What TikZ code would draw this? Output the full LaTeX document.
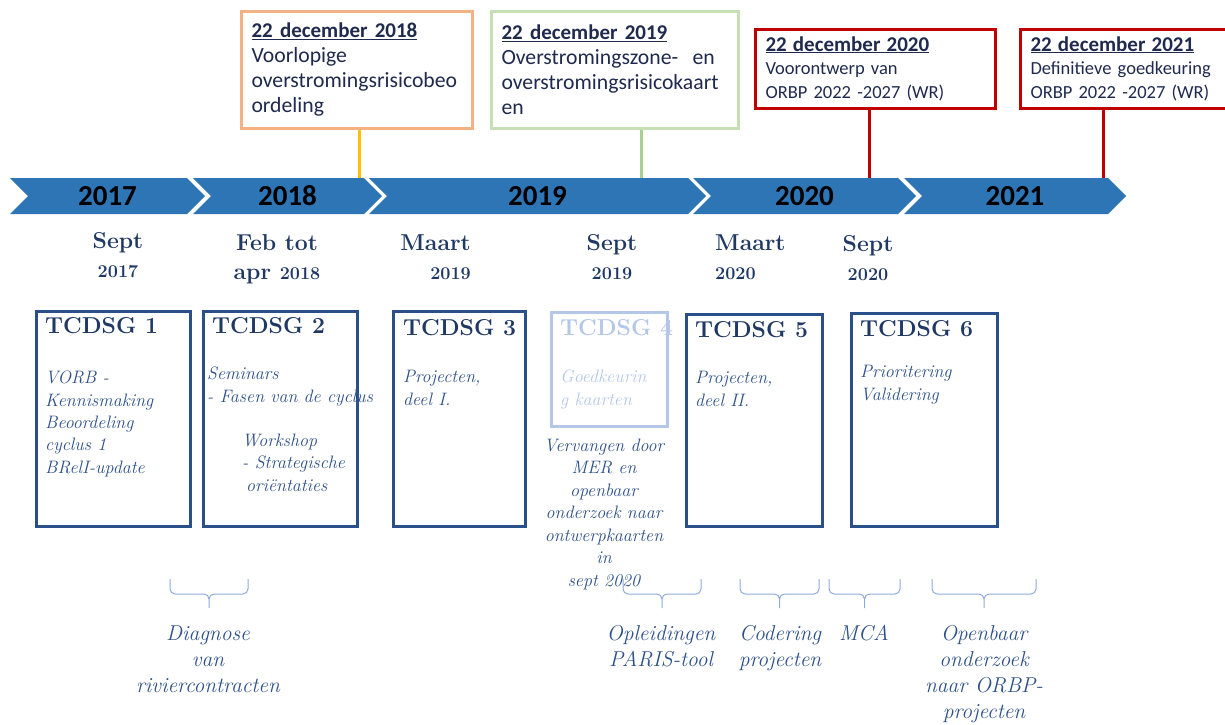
\documentclass[tikz,border=0pt]{standalone}
\usepackage{fontspec}
\newfontfamily\calib{Carlito}
\usetikzlibrary{shapes.symbols,positioning}
\definecolor{chevblue}{HTML}{2E75B6}
\definecolor{navy}{HTML}{1F3864}
\definecolor{itblue}{HTML}{2C5088}
\definecolor{boxblue}{HTML}{2B5089}
\definecolor{paleblue}{HTML}{B4C7E7}
\definecolor{bracecol}{HTML}{8FAADC}
\definecolor{orangebox}{HTML}{F4B183}
\definecolor{goldline}{HTML}{FFC000}
\definecolor{greenbox}{HTML}{C5E0B4}
\definecolor{greenline}{HTML}{A9D18E}
\definecolor{redbox}{HTML}{C00000}
\definecolor{datetext}{HTML}{1F2A4E}
\hyphenpenalty=10000 \exhyphenpenalty=10000

\begin{document}
\begin{tikzpicture}[x=1pt, y=-1pt,
    year/.style={signal, signal to=east, signal from=west, fill=chevblue,
                 minimum height=36pt, inner sep=0pt,
                 font=\calib\fontsize{29}{34}\selectfont\bfseries},
    deadline/.style={rectangle, line width=3pt, fill=white, anchor=north west,
                     align=left, inner xsep=10.5pt, inner ysep=0pt, text=datetext,
                     font=\calib\fontsize{21.7}{25}\selectfont},
    tick/.style={line width=3pt},
    when/.style={inner sep=0pt, text=navy, align=center,
                 font=\fontsize{23}{29}\selectfont\bfseries},
    group/.style={rectangle, draw=boxblue, line width=3pt, anchor=north west, inner sep=0pt},
    grouptitle/.style={anchor=base west, inner sep=0pt, text=navy,
                       font=\fontsize{23}{28}\selectfont\bfseries},
    groupbody/.style={anchor=base west, inner sep=0pt, align=left, text=itblue,
                      font=\fontsize{18}{22.3}\selectfont\itshape},
    outcome/.style={anchor=base, inner sep=0pt, align=center, text=itblue,
                    font=\fontsize{21.5}{26}\selectfont\itshape},
    grp/.style={draw=bracecol, line width=1pt, rounded corners=5pt}]

\useasboundingbox (0,0) rectangle (1225,724);

% Year chevrons
\node[year, minimum width=195pt] (y17) at (107.5,196) {2017};
\node[year, minimum width=189pt] (y18) at (287.5,196) {2018};
\node[year, minimum width=337pt] (y19) at (537.5,196) {2019};
\node[year, minimum width=223pt] (y20) at (804.5,196) {2020};
\node[year, minimum width=222pt] (y21) at (1015,196) {2021};

% Deadlines (top row)
\node[deadline, draw=orangebox, minimum width=231pt, minimum height=117pt, text width=210pt]
  (d18) at (239.5,9.5)
  {{\fontsize{21}{25}\selectfont\underline{\textbf{22 december 2018}}}\\Voorlopige\\overstromingsrisicobeo\\ordeling};
\node[deadline, draw=greenbox, minimum width=247pt, minimum height=117pt, text width=226pt]
  (d19) at (489.5,9.5)
  {{\fontsize{21}{25}\selectfont\underline{\textbf{22 december 2019}}}\\Overstromingszone-\ \ en\\overstromingsrisicokaart\\en};
\node[deadline, draw=redbox, minimum width=240pt, minimum height=79pt, text width=219pt,
      font=\calib\fontsize{18.5}{23.5}\selectfont]
  (d20) at (753.5,27.5)
  {{\fontsize{21}{25}\selectfont\underline{\textbf{22 december 2020}}}\\Voorontwerp van\\ORBP 2022 -2027 (WR)};
\node[deadline, draw=redbox, minimum width=220pt, minimum height=79pt, text width=199pt,
      font=\calib\fontsize{18.5}{23.5}\selectfont]
  (d21) at (1018.5,27.5)
  {{\fontsize{21}{25}\selectfont\underline{\textbf{22 december 2021}}}\\Definitieve goedkeuring\\ORBP 2022 -2027 (WR)};

% Deadline ticks down to the timeline
\draw[tick, goldline] ([xshift=3]d18.south) -- ([xshift=3]d18.south |- y18.north);
\draw[tick, greenline] ([xshift=27]d19.south) -- ([xshift=27]d19.south |- y19.north);
\draw[tick, redbox] ([xshift=-5.5]d20.south) -- ([xshift=-5.5]d20.south |- y20.north);
\draw[tick, redbox] ([xshift=-26.5]d21.south) -- ([xshift=-26.5]d21.south |- y21.north);

% Meeting dates (base = last line)
\node[when, anchor=base] (m1) at (118,277) {Sept\\{\fontsize{18}{29}\selectfont 2017}};
\node[when, anchor=base] (m2) at (277,279) {Feb tot\\apr {\fontsize{18}{29}\selectfont 2018}};
\node[when, anchor=base east, align=right] (m3) at (471,279) {Maart\\{\fontsize{18}{29}\selectfont 2019}};
\node[when, anchor=base] (m4) at (612,279) {Sept\\{\fontsize{18}{29}\selectfont 2019}};
\node[when, anchor=base west, align=left] (m5) at (715,279) {Maart\\{\fontsize{18}{29}\selectfont 2020}};
\node[when, anchor=base] (m6) at (868,280) {Sept\\{\fontsize{18}{29}\selectfont 2020}};

% TCDSG boxes
\node[group, minimum width=154pt, minimum height=215pt] (g1) at (34.5,309.5) {};
\node[group, minimum width=154pt, minimum height=215pt] (g2) at (201.5,309.5) {};
\node[group, minimum width=132pt, minimum height=215pt] (g3) at (391.5,309.5) {};
\node[group, draw=paleblue, minimum width=116pt, minimum height=114pt] (g4) at (549.5,310.5) {};
\node[group, minimum width=136pt, minimum height=212pt] (g5) at (684.5,312.5) {};
\node[group, minimum width=146pt, minimum height=213pt] (g6) at (849.5,311.5) {};

\node[grouptitle] (t1) at (45,333) {TCDSG 1};
\node[grouptitle] (t2) at (212,333) {TCDSG 2};
\node[grouptitle] (t3) at (403,335) {TCDSG 3};
\node[grouptitle, text=paleblue] (t4) at (560,335) {TCDSG 4};
\node[grouptitle] (t5) at (695,337) {TCDSG 5};
\node[grouptitle] (t6) at (860,336) {TCDSG 6};

% box texts (base = last line)
\node[groupbody] (b1) at (45,473)
  {VORB -\\Kennismaking\\Beoordeling\\cyclus 1\\BRelI-update};
\node[groupbody] (b2a) at (207,402) {Seminars\\- Fasen van de cyclus};
\node[groupbody] (b2b) at (242,491) {Workshop\\- Strategische\\\hspace*{4pt}oriëntaties};
\node[groupbody] (b3) at (403,405) {Projecten,\\deel I.};
\node[groupbody, text=paleblue] (b4) at (560,405) {Goedkeurin\\g kaarten};
\node[groupbody, anchor=base, align=center, font=\fontsize{18}{22.5}\selectfont\itshape] (b4x) at (604,586)
  {Vervangen door\\MER en\\openbaar\\onderzoek naar\\ontwerpkaarten\\in\\sept 2020};
\node[groupbody] (b5) at (695,406) {Projecten,\\deel II.};
\node[groupbody] (b6) at (860,400) {Prioritering\\Validering};

% Braces and outcomes
\foreach \l/\r in {170/248, 623/701, 740/819, 829/900, 932/1036}
  \draw[grp] (\l,579) |- ({(\l+\r)/2},594) -- ({(\l+\r)/2},608)
             (\r,579) |- ({(\l+\r)/2},594) -- ({(\l+\r)/2},608);

\node[outcome] (o1) at (208,692) {Diagnose\\van\\riviercontracten};
\node[outcome] (o2) at (661,666) {Opleidingen\\PARIS-tool};
\node[outcome] (o3) at (780,666) {Codering\\projecten};
\node[outcome] (o4) at (864,640) {MCA};
\node[outcome] (o5) at (984,718) {Openbaar\\onderzoek\\naar ORBP-\\projecten};

\end{tikzpicture}
\end{document}
